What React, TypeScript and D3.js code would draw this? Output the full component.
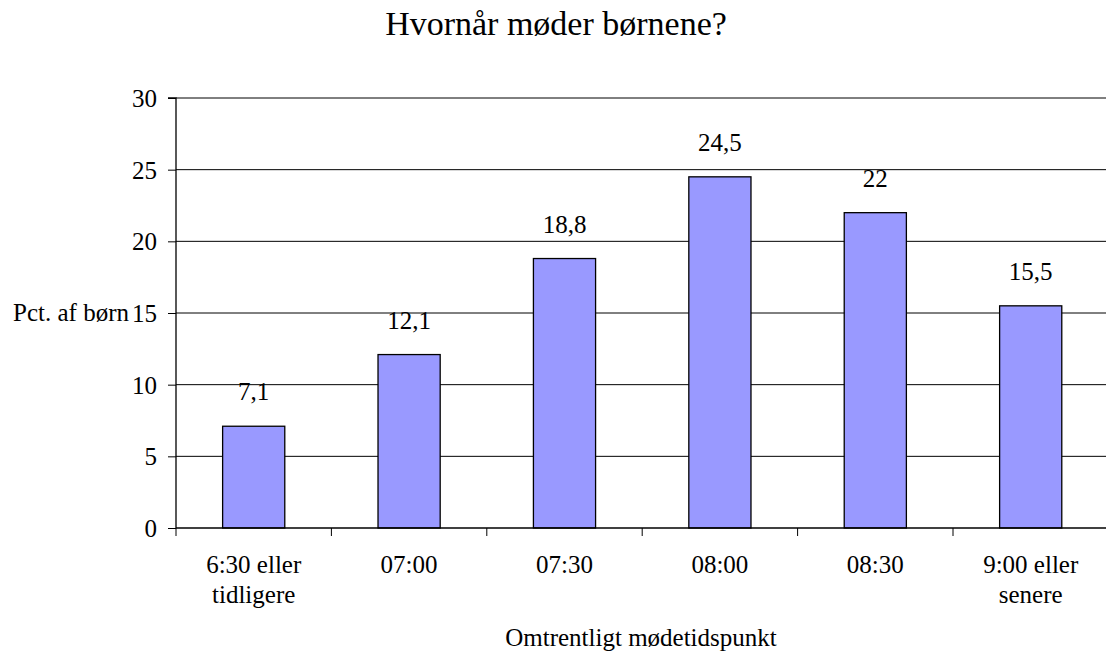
import React, { useEffect, useRef } from 'react';
import * as d3 from 'd3';

const categories = ['6:30 eller|tidligere', '07:00', '07:30', '08:00', '08:30', '9:00 eller|senere'];
const values = [7.1, 12.1, 18.8, 24.5, 22, 15.5];
const yTicks = [0, 5, 10, 15, 20, 25, 30];

const title = 'Hvornår møder børnene?';
const yTitle = 'Pct. af børn';
const xTitle = 'Omtrentligt mødetidspunkt';

export default function App() {
  const ref = useRef<SVGSVGElement>(null);

  useEffect(() => {
    document.body.style.margin = '0';
    const width = 1106;
    const left = 176, top = 98, bottom = 528;
    const step = 155.4;
    const font = '"Times New Roman", "Liberation Serif", serif';
    const fs = 25;

    const svg = d3.select(ref.current);
    svg.selectAll('*').remove();
    svg.attr('font-family', font);

    const x = d3.scaleBand<string>()
      .domain(categories)
      .range([left, left + step * categories.length])
      .padding(0);
    const y = d3.scaleLinear().domain([0, 30]).range([bottom, top]);

    // gridlines
    svg.append('g')
      .selectAll('line')
      .data(yTicks.filter(t => t > 0))
      .join('line')
        .attr('x1', left).attr('x2', width)
        .attr('y1', d => y(d)).attr('y2', d => y(d))
        .attr('stroke', '#000').attr('stroke-width', 1);

    // bars
    const bw = step * 0.4;
    svg.append('g')
      .selectAll('rect')
      .data(values)
      .join('rect')
        .attr('x', (_, i) => x(categories[i])! + (step - bw) / 2)
        .attr('y', d => y(d))
        .attr('width', bw)
        .attr('height', d => bottom - y(d))
        .attr('fill', '#9999ff')
        .attr('stroke', '#000')
        .attr('stroke-width', 1.3);

    // value labels
    svg.append('g')
      .selectAll('text')
      .data(values)
      .join('text')
        .attr('x', (_, i) => x(categories[i])! + step / 2)
        .attr('y', d => y(d) - 26)
        .attr('text-anchor', 'middle')
        .attr('font-size', fs)
        .text(d => String(d).replace('.', ','));

    // y axis
    const yAxis = d3.axisLeft(y).tickValues(yTicks).tickSize(8).tickPadding(11);
    const ya = svg.append('g').attr('transform', `translate(${left},0)`).call(yAxis);
    ya.attr('font-family', font).attr('font-size', fs);
    ya.select('.domain').attr('stroke', '#000').attr('stroke-width', 1.3).attr('d', `M-8,${top}H0V${bottom}`);
    ya.selectAll('.tick text').attr('fill', '#000').attr('dy', '0.34em');

    // x axis
    svg.append('line')
      .attr('x1', left).attr('x2', width)
      .attr('y1', bottom).attr('y2', bottom)
      .attr('stroke', '#000').attr('stroke-width', 1.3);
    svg.append('g')
      .selectAll('line')
      .data(categories)
      .join('line')
        .attr('x1', d => x(d)!).attr('x2', d => x(d)!)
        .attr('y1', bottom).attr('y2', bottom + 8)
        .attr('stroke', '#000');

    const cl = svg.append('g')
      .selectAll('text')
      .data(categories)
      .join('text')
        .attr('text-anchor', 'middle')
        .attr('font-size', fs);
    cl.selectAll('tspan')
      .data(d => d.split('|').map(s => ({ s, c: d })))
      .join('tspan')
        .attr('x', d => x(d.c)! + step / 2)
        .attr('y', (_, i) => 573 + i * 30)
        .text(d => d.s);

    // titles
    svg.append('text')
      .attr('x', 556).attr('y', 35)
      .attr('text-anchor', 'middle')
      .attr('font-size', 34)
      .text(title);
    svg.append('text')
      .attr('x', 129).attr('y', 321)
      .attr('text-anchor', 'end')
      .attr('font-size', fs)
      .text(yTitle);
    svg.append('text')
      .attr('x', 641).attr('y', 646)
      .attr('text-anchor', 'middle')
      .attr('font-size', fs)
      .text(xTitle);
  }, []);

  return <svg ref={ref} width={1106} height={655} style={{ display: 'block', background: '#fff' }} />;
}
